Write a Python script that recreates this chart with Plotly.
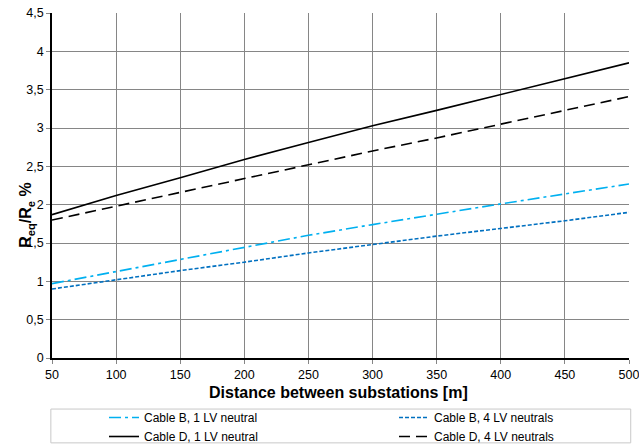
import plotly.graph_objects as go

distance = [50, 100, 150, 200, 250, 300, 350, 400, 450, 500]
cable_b_1 = [0.97, 1.13, 1.29, 1.45, 1.60, 1.74, 1.88, 2.01, 2.14, 2.27]
cable_b_4 = [0.90, 1.02, 1.14, 1.25, 1.37, 1.48, 1.59, 1.69, 1.79, 1.90]
cable_d_1 = [1.87, 2.12, 2.35, 2.59, 2.81, 3.03, 3.23, 3.44, 3.64, 3.85]
cable_d_4 = [1.80, 1.98, 2.16, 2.34, 2.52, 2.70, 2.87, 3.05, 3.23, 3.41]

y_ticks = [0, 0.5, 1, 1.5, 2, 2.5, 3, 3.5, 4, 4.5]
y_ticklabels = ["0", "0,5", "1", "1,5", "2", "2,5", "3", "3,5", "4", "4,5"]
x_ticks = [50, 100, 150, 200, 250, 300, 350, 400, 450, 500]

fig = go.Figure()
fig.add_trace(go.Scatter(x=distance, y=cable_b_1, mode="lines", name="Cable B, 1 LV neutral",
                         legend="legend",
                         line=dict(color="#00b0f0", width=1.6, dash="12px,4px,3px,4px")))
fig.add_trace(go.Scatter(x=distance, y=cable_d_1, mode="lines", name="Cable D, 1 LV neutral",
                         legend="legend",
                         line=dict(color="black", width=1.6)))
fig.add_trace(go.Scatter(x=distance, y=cable_b_4, mode="lines", name="Cable B, 4 LV neutrals",
                         legend="legend2",
                         line=dict(color="#0070c0", width=1.6, dash="4px,2px")))
fig.add_trace(go.Scatter(x=distance, y=cable_d_4, mode="lines", name="Cable D, 4 LV neutrals",
                         legend="legend2",
                         line=dict(color="black", width=1.6, dash="11px,6px")))

leg_common = dict(orientation="v", yanchor="top", xanchor="left", yref="container",
                  y=(444 - 403) / 444,
                  font=dict(size=12), bgcolor="rgba(0,0,0,0)", itemwidth=30,
                  tracegroupgap=0, traceorder="normal")

fig.update_layout(
    width=639, height=444,
    margin=dict(l=52, r=10, t=13, b=86),
    paper_bgcolor="white", plot_bgcolor="white",
    font=dict(family="Liberation Sans, Arial, sans-serif", size=12.5, color="black"),
    showlegend=True,
    legend=dict(x=(104 - 52) / 577, **leg_common),
    legend2=dict(x=(394 - 52) / 577, **leg_common),
    shapes=[dict(type="rect", xref="paper", yref="paper", x0=-0.002, x1=1.003,
                 y0=-0.246, y1=-0.148, line=dict(color="#c8c8c8", width=1))],
    annotations=[
        dict(text="<b>Distance between substations [m]</b>", xref="paper", yref="paper",
             x=0.497, y=-0.0986, xanchor="center", yanchor="middle", showarrow=False,
             font=dict(size=16)),
        dict(text="<b>R<sub>eq</sub>/R<sub>e</sub> %</b>", xref="paper", yref="paper",
             x=(27 - 52) / 577, y=0.415, xanchor="center", yanchor="middle", showarrow=False,
             textangle=-90, font=dict(size=16)),
    ],
)
fig.update_xaxes(range=[50, 500], tickvals=x_ticks, showgrid=True, gridcolor="#868686", gridwidth=1,
                 showline=True, linecolor="black", linewidth=1.5, ticks="outside", ticklen=4,
                 tickcolor="#868686", zeroline=False, automargin=False, ticklabeloverflow="allow")
fig.update_yaxes(range=[0, 4.5], tickvals=y_ticks, ticktext=y_ticklabels, showgrid=True,
                 gridcolor="#868686", gridwidth=1, showline=True, linecolor="black", linewidth=1.5,
                 ticks="outside", ticklen=4, tickcolor="#868686", zeroline=False, automargin=False)

fig.write_html("out.html", config={"displayModeBar": False},
               post_script="document.body.style.margin='0';document.body.style.overflow='hidden';")
